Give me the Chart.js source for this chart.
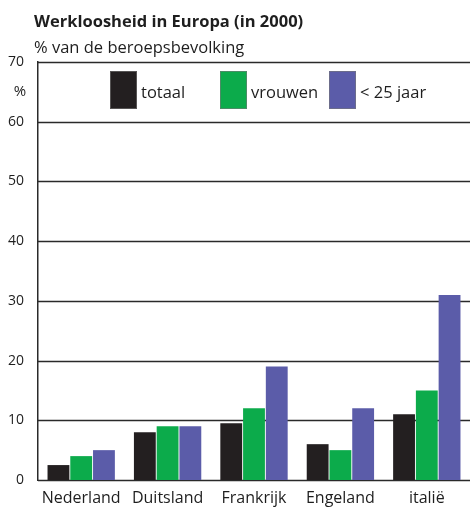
<!DOCTYPE html>
<html>
<head>
<meta charset="utf-8">
<script src="https://cdn.jsdelivr.net/npm/chart.js@4"></script>
<style>
    html, body { margin: 0; padding: 0; background: #fff; }
    #wrap { width: 470px; height: 510px; }
</style>
</head>
<body>
<div id="wrap"><canvas id="chart"></canvas></div>
<script>
const countries = ['Nederland', 'Duitsland', 'Frankrijk', 'Engeland', 'italië'];
const totaal = [2.5, 8, 9.5, 6, 11];
const vrouwen = [4, 9, 12, 5, 15];
const jongeren = [5, 9, 19, 12, 31];
const yTicks = [0, 10, 20, 30, 40, 50, 60, 70];

const FONT = '"Open Sans", "DejaVu Sans", sans-serif';

// gridlines run to the right edge of the picture
const fullGrid = {
    id: 'fullGrid',
    beforeDatasetsDraw(chart) {
        const ctx = chart.ctx;
        const y = chart.scales.y;
        ctx.save();
        ctx.strokeStyle = '#2a2a2a';
        ctx.lineWidth = 1.5;
        yTicks.forEach(t => {
            const py = Math.round(y.getPixelForValue(t)) + 0.5;
            ctx.beginPath();
            ctx.moveTo(chart.chartArea.left, py);
            ctx.lineTo(chart.width, py);
            ctx.stroke();
        });
        ctx.restore();
    }
};

// titles, "%" unit and the legend inside the plot
const extras = {
    id: 'extras',
    afterDraw(chart) {
        const ctx = chart.ctx;
        ctx.save();
        ctx.fillStyle = '#1e1e1e';
        ctx.textBaseline = 'alphabetic';
        ctx.textAlign = 'left';
        ctx.font = 'bold 16.5px ' + FONT;
        ctx.fillText('Werkloosheid in Europa (in 2000)', 34, 27);
        ctx.font = '16.5px ' + FONT;
        ctx.fillText('% van de beroepsbevolking', 34, 53);

        ctx.font = '15px ' + FONT;
        ctx.textAlign = 'center';
        ctx.textBaseline = 'middle';
        ctx.fillText('%', 20, 92);

        const boxX = [110, 220, 329];
        ctx.textAlign = 'left';
        ctx.font = '16.5px ' + FONT;
        chart.data.datasets.forEach((ds, i) => {
            ctx.fillStyle = ds.backgroundColor;
            ctx.fillRect(boxX[i], 71, 27, 38);
            ctx.strokeStyle = 'rgba(120,120,120,0.6)';
            ctx.lineWidth = 1;
            ctx.strokeRect(boxX[i] + 0.5, 71.5, 26, 37);
            ctx.fillStyle = '#1e1e1e';
            ctx.fillText(ds.label, boxX[i] + 31, 93);
        });
        ctx.restore();
    }
};

new Chart(document.getElementById('chart'), {
    type: 'bar',
    data: {
        labels: countries,
        datasets: [
            { label: 'totaal', data: totaal, backgroundColor: '#231f20' },
            { label: 'vrouwen', data: vrouwen, backgroundColor: '#0cab4b' },
            { label: '< 25 jaar', data: jongeren, backgroundColor: '#5b5ca9' }
        ]
    },
    options: {
        responsive: true,
        maintainAspectRatio: false,
        animation: false,
        layout: { padding: { top: 62, right: 0, left: 0, bottom: 0 } },
        datasets: {
            bar: { categoryPercentage: 0.79, barPercentage: 0.96, borderWidth: 0 }
        },
        plugins: {
            legend: { display: false },
            title: { display: false },
            tooltip: { enabled: false }
        },
        scales: {
            x: {
                grid: { display: false },
                border: { display: false },
                afterFit: scale => { scale.height = 30; },
                ticks: { color: '#1e1e1e', font: { family: FONT, size: 16 }, padding: 1 }
            },
            y: {
                min: 0,
                max: 70,
                afterFit: scale => { scale.width = 38; },
                afterBuildTicks: scale => { scale.ticks = yTicks.map(v => ({ value: v })); },
                grid: { display: false },
                border: { display: true, color: '#2a2a2a', width: 1.5 },
                ticks: { color: '#1e1e1e', font: { family: FONT, size: 14 }, padding: 6 }
            }
        }
    },
    plugins: [fullGrid, extras]
});
</script>
</body>
</html>
